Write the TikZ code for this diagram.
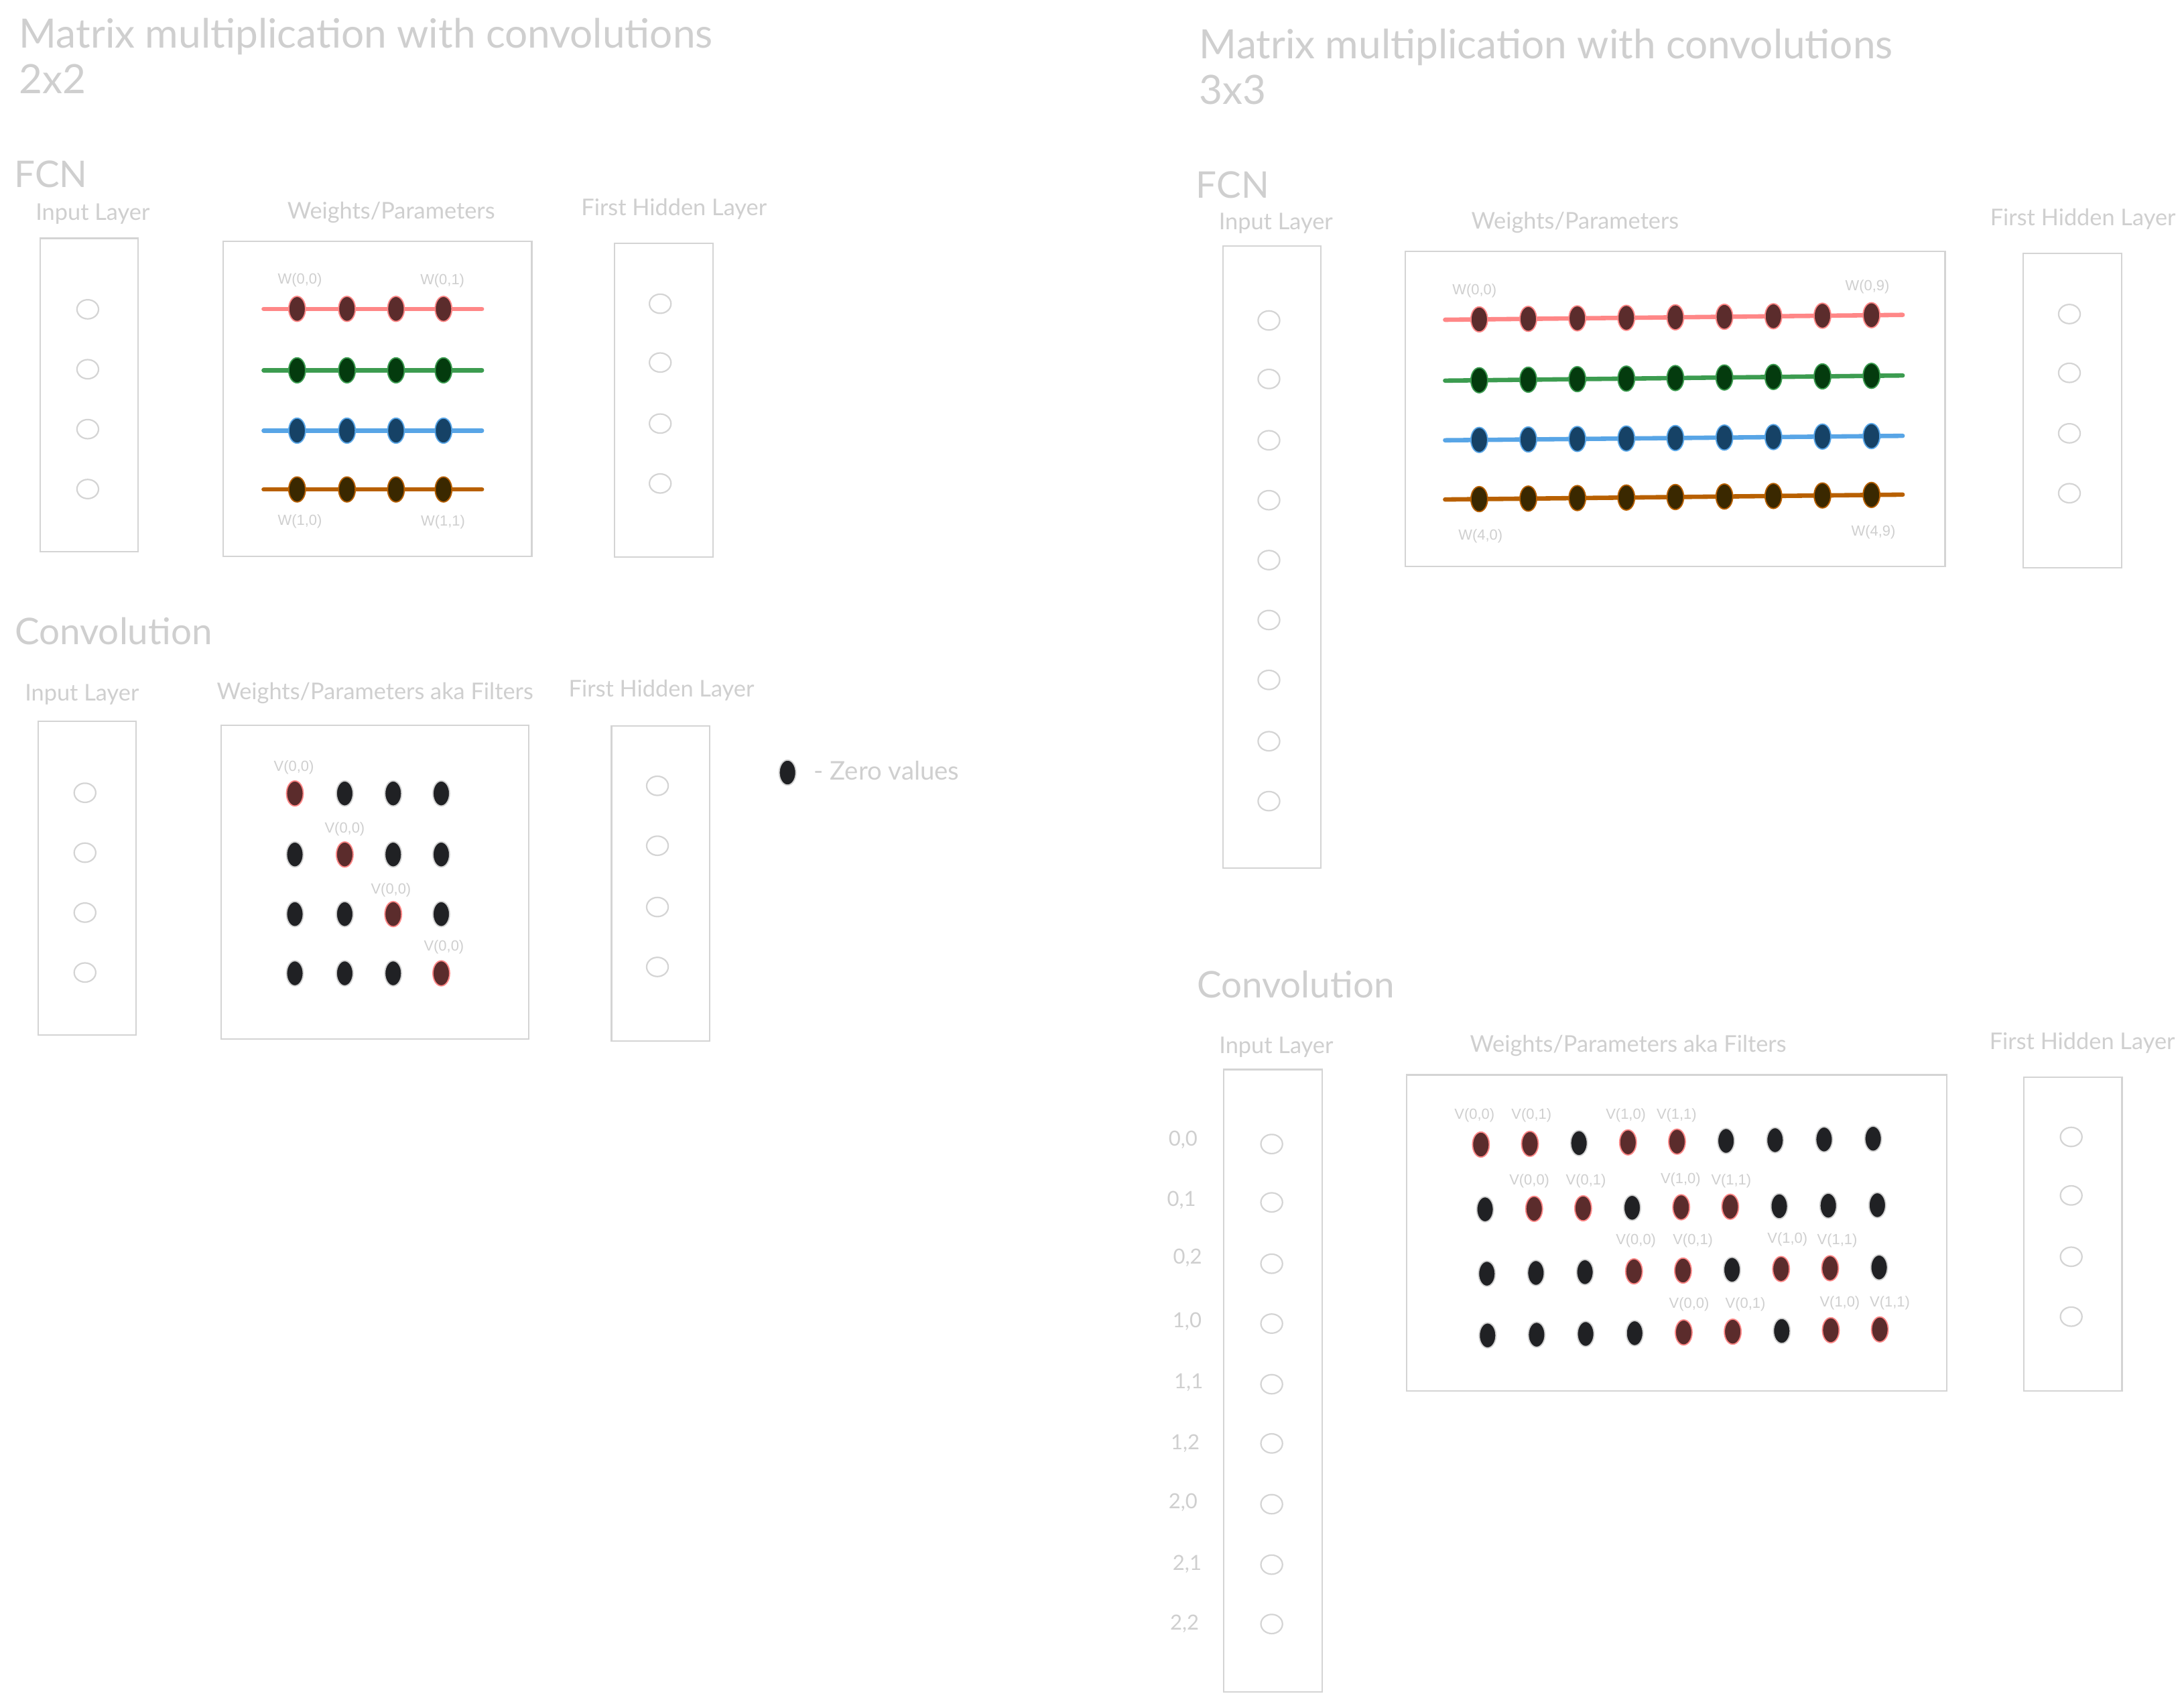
\documentclass[tikz,border=0pt]{standalone}
\usepackage{fontspec}
\setmainfont{Lato}
\newfontfamily\lblfont{Liberation Sans}
\usetikzlibrary{shapes.geometric}
\definecolor{txtgray}{HTML}{CFCFCF}
\definecolor{boxgray}{HTML}{D4D4D4}
\definecolor{rline}{HTML}{FF8787}
\definecolor{rfill}{HTML}{5B2C2C}
\definecolor{gline}{HTML}{3C9C50}
\definecolor{gfill}{HTML}{043B0E}
\definecolor{bline}{HTML}{58A5E6}
\definecolor{bfill}{HTML}{164266}
\definecolor{oline}{HTML}{B86000}
\definecolor{ofill}{HTML}{3A2800}
\definecolor{zfill}{HTML}{202124}
\definecolor{zline}{HTML}{D0D0D0}
\newcommand\mkbox[5]{\node[box, minimum width={(#4-#2)*0.02cm}, minimum height={(#5-#3)*0.02cm}] (#1) at ({(#2+#4)/2},{(#3+#5)/2}) {};}
\tikzset{
  box/.style={draw=boxgray, line width=0.6pt, rectangle, inner sep=0pt, outer sep=0pt},
  neuron/.style={ellipse, draw=boxgray, line width=0.6pt, minimum width=0.31cm, minimum height=0.275cm, inner sep=0pt},
  wdot/.style={ellipse, minimum width=0.24cm, minimum height=0.36cm, inner sep=0pt, line width=0.5pt},
  zdot/.style={wdot, fill=zfill, draw=zline},
  rdot/.style={wdot, fill=rfill, draw=rline},
  wline/.style={line width=1.8pt, line cap=round},
  ttl/.style={anchor=base west, text=txtgray, inner sep=0pt, font=\fontsize{16.5}{19}\selectfont},
  hd/.style={anchor=base west, text=txtgray, inner sep=0pt, font=\fontsize{15}{18}\selectfont},
  sub/.style={anchor=base west, text=txtgray, inner sep=0pt, font=\fontsize{9.4}{11}\selectfont},
  idx/.style={text=txtgray, inner sep=0pt, font=\fontsize{8.5}{10}\selectfont},
  lbl/.style={text=txtgray, inner sep=0pt, font=\lblfont\fontsize{6}{7}\selectfont},
}
\begin{document}
\begin{tikzpicture}[x=0.02cm,y=-0.02cm]
\useasboundingbox[fill=white] (0,0) rectangle (1568,1224);

% ================= LEFT: 2x2 =================
\node[ttl] (tl1) at (13.5,34.5) {Matrix multiplication with convolutions};
\node[ttl] (tl2) at (13.5,67) {2x2};
\node[hd] (fcnl) at (10,134.7) {FCN};
\node[sub] (inl) at (25.3,158) {Input Layer};
\node[sub] (wpl) at (206,157) {Weights/Parameters};
\node[sub] (hdl) at (417,154.8) {First Hidden Layer};

\mkbox{fainbox}{29}{171}{99}{396}
\foreach \i/\yy in {1/222,2/265,3/308,4/351}{\node[neuron] (fain\i) at (63,\yy) {};}
\mkbox{fawbox}{160.4}{173.2}{381.8}{399.4}
\foreach \r/\yy/\lc/\fc in {0/221.7/rline/rfill,1/265.8/gline/gfill,2/309.1/bline/bfill,3/351.3/oline/ofill}{
  \coordinate (fa\r L) at (189.3,\yy);
  \coordinate (fa\r R) at (346,\yy);
  \draw[wline,\lc] (fa\r L) -- (fa\r R);
  \foreach \c/\xx in {0/213.3,1/249.1,2/284.3,3/318.4}{
    \node[wdot, fill=\fc, draw=\lc] (fa\r c\c) at (\xx,\yy) {};
  }
}
\node[lbl] (faw00) at (215.3,200.8) {W(0,0)};
\node[lbl] (faw01) at (317.6,201.3) {W(0,1)};
\node[lbl] (faw10) at (215.3,374.2) {W(1,0)};
\node[lbl] (faw11) at (318,374.7) {W(1,1)};
\mkbox{fahbox}{441.1}{174.5}{511.9}{400}
\foreach \i/\yy in {1/218,2/260.2,3/304,4/347}{\node[neuron] (fah\i) at (474,\yy) {};}

% convolution 2x2
\node[hd] (convl) at (10.4,462.8) {Convolution};
\node[sub] (cinl) at (17.6,502.9) {Input Layer};
\node[sub] (cwpl) at (155.4,502) {Weights/Parameters aka Filters};
\node[sub] (chdl) at (408,500) {First Hidden Layer};
\mkbox{cainbox}{27.3}{517.8}{97.8}{743}
\foreach \i/\yy in {1/569,2/612,3/655,4/698}{\node[neuron] (cain\i) at (61,\yy) {};}
\mkbox{cawbox}{158.8}{520.5}{379.8}{745.9}
\foreach \r/\yy in {0/569.5,1/613.3,2/656.1,3/698.6}{
  \foreach \c/\xx in {0/211.7,1/247.5,2/282.3,3/316.8}{
    \ifnum\r=\c
      \node[rdot] (ca\r c\c) at (\xx,\yy) {};
    \else
      \node[zdot] (ca\r c\c) at (\xx,\yy) {};
    \fi
  }
}
\node[lbl] (cav0) at (211,551) {V(0,0)};
\node[lbl] (cav1) at (247.5,595.1) {V(0,0)};
\node[lbl] (cav2) at (280.7,638.9) {V(0,0)};
\node[lbl] (cav3) at (318.7,679.8) {V(0,0)};
\mkbox{cahbox}{439}{521}{509.5}{747}
\foreach \i/\yy in {1/564,2/607,3/651,4/694}{\node[neuron] (cah\i) at (472,\yy) {};}

% legend
\node[zdot] (legdot) at (565.4,554.5) {};
\node[anchor=base west, text=txtgray, inner sep=0pt, font=\fontsize{10.5}{12}\selectfont] (legtxt) at (584,560) {- Zero values};

% ================= RIGHT: 3x3 =================
\node[ttl] (tr1) at (860.8,42) {Matrix multiplication with convolutions};
\node[ttl] (tr2) at (860.8,74.6) {3x3};
\node[hd] (fcnr) at (858.4,142) {FCN};
\node[sub] (inr) at (874.7,165) {Input Layer};
\node[sub] (wpr) at (1056,164.4) {Weights/Parameters};
\node[sub] (hdr) at (1428.5,162) {First Hidden Layer};

\mkbox{fbinbox}{878}{176.5}{948.3}{623}
\foreach \i/\yy in {1/230,2/272,3/316,4/359,5/402,6/445,7/488,8/532,9/575}{\node[neuron] (fbin\i) at (911,\yy) {};}
\mkbox{fbwbox}{1009}{180.5}{1396.5}{406.6}
\foreach \r/\yl/\yr/\lc/\fc in {0/229.5/226/rline/rfill,1/273.2/269.5/gline/gfill,2/316/312.8/bline/bfill,3/358.5/355/oline/ofill}{
  \coordinate (fb\r L) at (1037.5,\yl);
  \coordinate (fb\r R) at (1366,\yr);
  \draw[wline,\lc] (fb\r L) -- (fb\r R);
  \foreach \c in {0,...,8}{
    \pgfmathsetmacro\xx{1062+35.2*\c}
    \pgfmathsetmacro\yy{\yl+(\yr-\yl)*(\xx-1037.5)/328.5}
    \node[wdot, fill=\fc, draw=\lc] (fb\r c\c) at (\xx,\yy) {};
  }
}
\node[lbl] (fbw00) at (1058.6,208.9) {W(0,0)};
\node[lbl] (fbw09) at (1340.7,206) {W(0,9)};
\node[lbl] (fbw40) at (1062.9,385) {W(4,0)};
\node[lbl] (fbw49) at (1345,381.7) {W(4,9)};
\mkbox{fbhbox}{1452.6}{182}{1523.4}{407.5}
\foreach \i/\yy in {1/225.4,2/267.6,3/311,4/354}{\node[neuron] (fbh\i) at (1485.7,\yy) {};}

% convolution 3x3
\node[hd] (convr) at (859,716) {Convolution};
\node[sub] (cinr) at (875,756) {Input Layer};
\node[sub] (cwpr) at (1055,755) {Weights/Parameters aka Filters};
\node[sub] (chdr) at (1428,753) {First Hidden Layer};
\mkbox{cbinbox}{878.7}{767.6}{949.3}{1214.2}
\foreach \i/\yy/\lx/\ly/\t in {1/821.1/849.4/818/{0,0},2/863/848.3/861.4/{0,1},3/907/852.6/902.8/{0,2},4/950/852.3/948.5/{1,0},5/993.5/853.4/992.5/{1,1},6/1036/850.9/1036/{1,2},7/1079.6/849.4/1078.4/{2,0},8/1123/852.3/1122.4/{2,1},9/1165.6/850.4/1165.5/{2,2}}{
  \node[neuron] (cbin\i) at (913,\yy) {};
  \node[idx] (cbix\i) at (\lx,\ly) {\t};
}
\mkbox{cbwbox}{1010}{771.5}{1397.5}{998.5}
\foreach \r/\xo/\yl/\yr/\pat in {%
  0/1063.2/821.5/817.3/{rdot,rdot,zdot,rdot,rdot,zdot,zdot,zdot,zdot},%
  1/1066.2/868/865/{zdot,rdot,rdot,zdot,rdot,rdot,zdot,zdot,zdot},%
  2/1067.5/914.2/909.7/{zdot,zdot,zdot,rdot,rdot,zdot,rdot,rdot,zdot},%
  3/1068/958.5/954.2/{zdot,zdot,zdot,zdot,rdot,rdot,zdot,rdot,rdot}}{
  \foreach \s [count=\c from 0] in \pat {
    \pgfmathsetmacro\xx{\xo+35.2*\c}
    \pgfmathsetmacro\yy{\yl+(\yr-\yl)*\c/8}
    \node[\s] (cb\r c\c) at (\xx,\yy) {};
  }
}
\foreach \n/\xx/\yy/\t in {a/1058.6/800.7/{V(0,0)},b/1099.5/800.7/{V(0,1)},c/1167.3/800.7/{V(1,0)},d/1203.7/800.7/{V(1,1)},
  e/1098/847.6/{V(0,0)},f/1138.6/847.6/{V(0,1)},g/1206.6/846.6/{V(1,0)},h/1242.9/847.6/{V(1,1)},
  i/1174.5/890.6/{V(0,0)},j/1215.4/890.6/{V(0,1)},k/1283.3/889.6/{V(1,0)},l/1319/890.6/{V(1,1)},
  m/1212.7/936.4/{V(0,0)},n/1253.1/936.4/{V(0,1)},o/1320.9/935.4/{V(1,0)},p/1356.8/935.4/{V(1,1)}}{
  \node[lbl] (cbv\n) at (\xx,\yy) {\t};
}
\mkbox{cbhbox}{1453}{773}{1523.5}{998.5}
\foreach \i/\yy in {1/816,2/858,3/902,4/945}{\node[neuron] (cbh\i) at (1487,\yy) {};}
\end{tikzpicture}
\end{document}
